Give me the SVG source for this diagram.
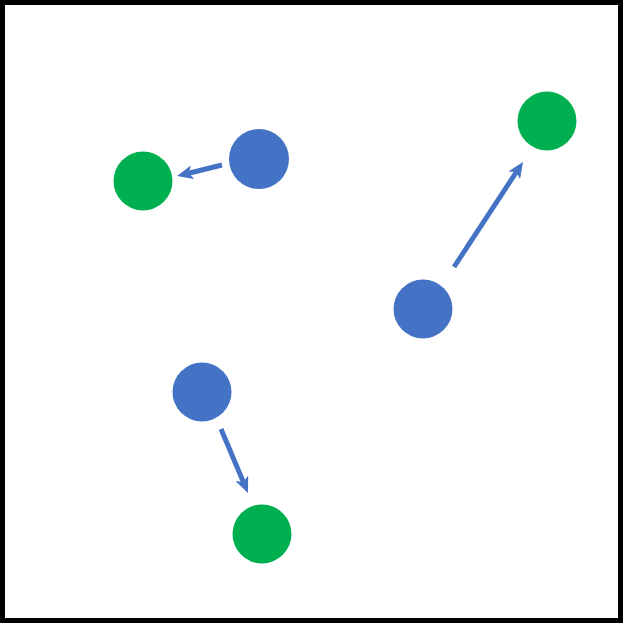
<svg xmlns="http://www.w3.org/2000/svg" width="623" height="623" viewBox="0 0 623 623">
<style>
.src{fill:#4472C4}
.dst{fill:#00B050}
.edge{stroke:#4472C4;stroke-width:5;fill:none;marker-end:url(#ah)}
</style>
<defs>
<marker id="ah" markerUnits="userSpaceOnUse" markerWidth="16" markerHeight="14" viewBox="0 0 16 14" refX="4" refY="7" orient="auto">
<path d="M0,0 L16,7 L0,14 L4,7 Z" fill="#4472C4"/>
</marker>
</defs>
<rect x="0" y="0" width="623" height="623" fill="#fff"/>
<rect x="2.5" y="2.5" width="618" height="618" fill="none" stroke="#000" stroke-width="5"/>
<g id="connectors">
<line class="edge" x1="222" y1="165" x2="188.7" y2="173.2"/>
<line class="edge" x1="454" y1="267" x2="516.4" y2="172"/>
<line class="edge" x1="221" y1="429" x2="243.3" y2="481.9"/>
</g>
<g id="blue1"><circle class="src" cx="259" cy="159" r="30"/></g>
<g id="green1"><circle class="dst" cx="143" cy="181" r="29.5"/></g>
<g id="blue2"><circle class="src" cx="423" cy="309" r="29.5"/></g>
<g id="green2"><circle class="dst" cx="547" cy="121" r="29.5"/></g>
<g id="blue3"><circle class="src" cx="202" cy="392" r="29.5"/></g>
<g id="green3"><circle class="dst" cx="262" cy="534" r="29.5"/></g>
</svg>
